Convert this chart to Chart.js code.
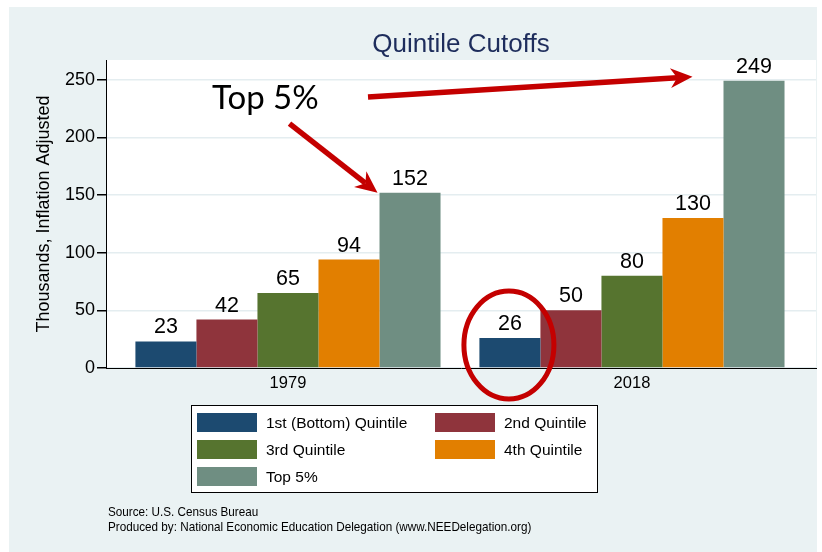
<!DOCTYPE html>
<html>
<head>
<meta charset="utf-8">
<title>Quintile Cutoffs</title>
<script src="https://cdn.jsdelivr.net/npm/chart.js@4.4.1/dist/chart.umd.min.js"></script>
<style>
  html, body { margin:0; padding:0; background:#fff; }
  canvas { display:block; }
</style>
</head>
<body>
<canvas id="graphCanvas" width="822" height="552"></canvas>
<script>
var years = ['1979', '2018'];
var seriesNames = ['1st (Bottom) Quintile', '2nd Quintile', '3rd Quintile', '4th Quintile', 'Top 5%'];
var firstQuintile = [23, 26];
var secondQuintile = [42, 50];
var thirdQuintile = [65, 80];
var fourthQuintile = [94, 130];
var topFive = [152, 249];
var yTicks = [0, 50, 100, 150, 200, 250];

var barColors = ['#1c4a70', '#8f343c', '#56742f', '#e27f00', '#6f8e82'];
var FONT = '"Liberation Sans", Arial, Helvetica, sans-serif';
var RED = '#c40000';

Chart.defaults.font.family = FONT;

var allSeries = [firstQuintile, secondQuintile, thirdQuintile, fourthQuintile, topFive];
var datasets = [];
for (var i = 0; i < allSeries.length; i++) {
  datasets.push({
    label: seriesNames[i],
    data: allSeries[i],
    backgroundColor: barColors[i],
    borderWidth: 0
  });
}

// background, plot area and title
var backdrop = {
  id: 'backdrop',
  beforeDraw: function (chart) {
    var ctx = chart.ctx, a = chart.chartArea;
    ctx.save();
    ctx.fillStyle = '#fff';
    ctx.fillRect(0, 0, chart.width, chart.height);
    ctx.fillStyle = '#eaf2f3';
    ctx.fillRect(9, 7, 808, 545);
    ctx.fillStyle = '#fff';
    ctx.fillRect(a.left, a.top, a.right - a.left, a.bottom - a.top);

    ctx.fillStyle = '#1e2d5c';
    ctx.font = '26px ' + FONT;
    ctx.textAlign = 'center';
    ctx.textBaseline = 'alphabetic';
    ctx.fillText('Quintile Cutoffs', (a.left + a.right) / 2, 52);
    ctx.restore();
  }
};

var valueLabels = {
  id: 'valueLabels',
  afterDatasetsDraw: function (chart) {
    var ctx = chart.ctx;
    ctx.save();
    ctx.fillStyle = '#000';
    ctx.font = '21.5px ' + FONT;
    ctx.textAlign = 'center';
    ctx.textBaseline = 'alphabetic';
    chart.data.datasets.forEach(function (ds, di) {
      chart.getDatasetMeta(di).data.forEach(function (bar, j) {
        ctx.fillText(String(ds.data[j]), bar.x, bar.y - 8);
      });
    });
    ctx.restore();
  }
};

function drawArrow(ctx, x0, y0, x1, y1) {
  var ang = Math.atan2(y1 - y0, x1 - x0);
  var c = Math.cos(ang), s = Math.sin(ang);
  var len = 22, half = 10;
  ctx.lineWidth = 5.5;
  ctx.beginPath();
  ctx.moveTo(x0, y0);
  ctx.lineTo(x1 - c * len * 0.7, y1 - s * len * 0.7);
  ctx.stroke();
  ctx.beginPath();
  ctx.moveTo(x1, y1);
  ctx.lineTo(x1 - c * len - s * half, y1 - s * len + c * half);
  ctx.lineTo(x1 - c * len * 0.7, y1 - s * len * 0.7);
  ctx.lineTo(x1 - c * len + s * half, y1 - s * len - c * half);
  ctx.closePath();
  ctx.fill();
}

// legend box, source notes and the red annotations
var extras = {
  id: 'extras',
  afterDraw: function (chart) {
    var ctx = chart.ctx;
    ctx.save();

    ctx.fillStyle = '#fff';
    ctx.fillRect(191, 405, 407, 88);
    ctx.strokeStyle = '#000';
    ctx.lineWidth = 1;
    ctx.strokeRect(191.5, 405.5, 406, 87);

    var cols = [197, 435], rows = [413, 440, 467];
    ctx.font = '15.5px ' + FONT;
    ctx.textAlign = 'left';
    ctx.textBaseline = 'middle';
    chart.data.datasets.forEach(function (ds, k) {
      var x = cols[k % 2], y = rows[Math.floor(k / 2)];
      ctx.fillStyle = ds.backgroundColor;
      ctx.fillRect(x, y, 60, 19);
      ctx.fillStyle = '#000';
      ctx.fillText(ds.label, x + 69, y + 10.5);
    });

    // notes are a bit narrow in the original, squeeze them
    ctx.save();
    ctx.translate(108, 0);
    ctx.scale(0.9, 1);
    ctx.font = '13px ' + FONT;
    ctx.textBaseline = 'alphabetic';
    ctx.fillText('Source: U.S. Census Bureau', 0, 516);
    ctx.fillText('Produced by: National Economic Education Delegation (www.NEEDelegation.org)', 0, 531);
    ctx.restore();

    ctx.fillStyle = '#000';
    ctx.font = '33px Lato, "Open Sans", sans-serif';
    ctx.textBaseline = 'alphabetic';
    ctx.fillText('Top 5%', 212, 109);

    ctx.strokeStyle = RED;
    ctx.fillStyle = RED;
    var topMeta = chart.getDatasetMeta(4);
    var b1 = topMeta.data[0], b2 = topMeta.data[1];
    var l1 = b1.x - b1.width / 2, l2 = b2.x - b2.width / 2;
    drawArrow(ctx, l1 - 90, b1.y - 69, l1 - 2, b1.y);
    drawArrow(ctx, 368, 97, l2 - 31, b2.y - 4);

    var low = chart.getDatasetMeta(0).data[1];
    ctx.lineWidth = 5;
    ctx.beginPath();
    ctx.ellipse(low.x - 1, low.y + 7, 45, 54, 0, 0, Math.PI * 2);
    ctx.stroke();

    ctx.restore();
  }
};

new Chart(document.getElementById('graphCanvas'), {
  type: 'bar',
  data: {
    labels: years,
    datasets: datasets
  },
  options: {
    responsive: false,
    animation: false,
    layout: { padding: { top: 60, right: 6, bottom: 0, left: 0 } },
    datasets: { bar: { categoryPercentage: 0.887, barPercentage: 1 } },
    plugins: {
      legend: { display: false },
      title: { display: false },
      tooltip: { enabled: false }
    },
    scales: {
      x: {
        grid: { display: false, drawTicks: false },
        border: { display: true, color: '#000', width: 1 },
        ticks: { color: '#000', font: { size: 16.5 }, padding: 6 },
        // the two groups sit a little inside the plot region, as in Stata
        afterBuildTicks: function (scale) {
          scale._startValue = -0.529;
          scale._valueRange = 2.064;
        },
        afterFit: function (scale) { scale.height = 184; }
      },
      y: {
        min: 0,
        max: 267,
        grid: { color: '#e4edf0', lineWidth: 1.5, tickColor: '#000', tickLength: 9 },
        border: { color: '#000', width: 1 },
        ticks: { color: '#000', font: { size: 18 }, padding: 2 },
        title: {
          display: true,
          text: 'Thousands, Inflation Adjusted',
          color: '#000',
          font: { size: 18 },
          padding: { top: 33, bottom: 0 }
        },
        afterBuildTicks: function (scale) {
          scale.ticks = yTicks.map(function (v) { return { value: v }; });
        },
        afterFit: function (scale) { scale.width = 106; }
      }
    }
  },
  plugins: [backdrop, valueLabels, extras]
});
</script>
</body>
</html>
